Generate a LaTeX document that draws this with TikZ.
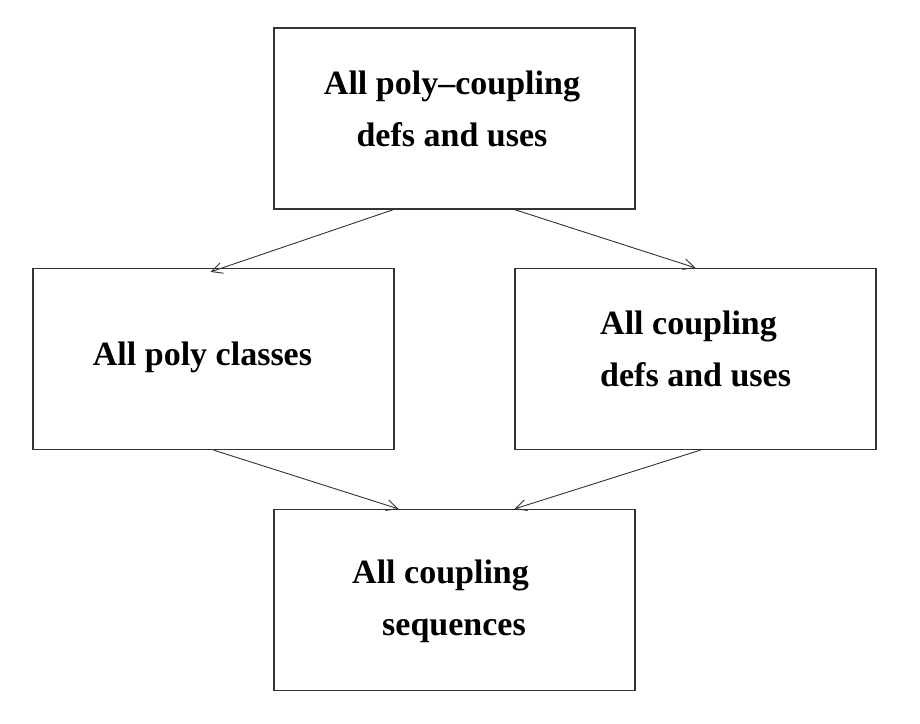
\documentclass[tikz,border=0pt]{standalone}
\usepackage{fontspec}
\setmainfont{Liberation Serif}
\usepackage{tikz}
\usetikzlibrary{arrows.meta,positioning}

\begin{document}
\begin{tikzpicture}[x = 1pt, y = 1pt,
    set/.style = {draw = black!80, line width = 1.2pt, minimum width = 361pt, minimum height = 181pt, inner sep = 0pt},
    txt/.style = {inner sep = 0pt, anchor = base, font = \fontsize{34}{52}\selectfont\bfseries},
    link/.style = {->, draw = black!80, line width = .9pt},
    >={Straight Barb[length=11pt, width=11pt]}]
    \useasboundingbox (0,0) rectangle (920,723);
    % boxes
    \node[set] (polycoupling) at (454.5,604.5) {};
    \node[set] (poly) at (213.5,364) {};
    \node[set] (coupling) at (695.5,364) {};
    \node[set] (sequences) at (454.5,123) {};
    % texts
    \node[txt, align = center] (polycoupling text) at ([xshift=-2.5pt, yshift=-28.5pt]polycoupling.center) {All poly--coupling\\defs and uses};
    \node[txt] (poly text) at ([xshift=-11pt, yshift=-7pt]poly.center) {All poly classes};
    \node[txt, align = left, anchor = base west] (coupling text) at ([xshift=-95.5pt, yshift=-28pt]coupling.center) {All coupling\\defs and uses};
    \node[txt, align = left, anchor = base west] (sequences text) at ([xshift=-102.5pt, yshift=-35pt]sequences.center) {All coupling\\\hspace*{30pt}sequences};
    % arrows
    \draw[link] ([xshift=-61pt]polycoupling.south) -- ([xshift=-3pt, yshift=-4pt]poly.north);
    \draw[link] ([xshift=60pt]polycoupling.south) -- (coupling.north);
    \draw[link] (poly.south) -- ([xshift=-56pt]sequences.north);
    \draw[link] ([xshift=5pt]coupling.south) -- ([xshift=60pt]sequences.north);
\end{tikzpicture}
\end{document}
